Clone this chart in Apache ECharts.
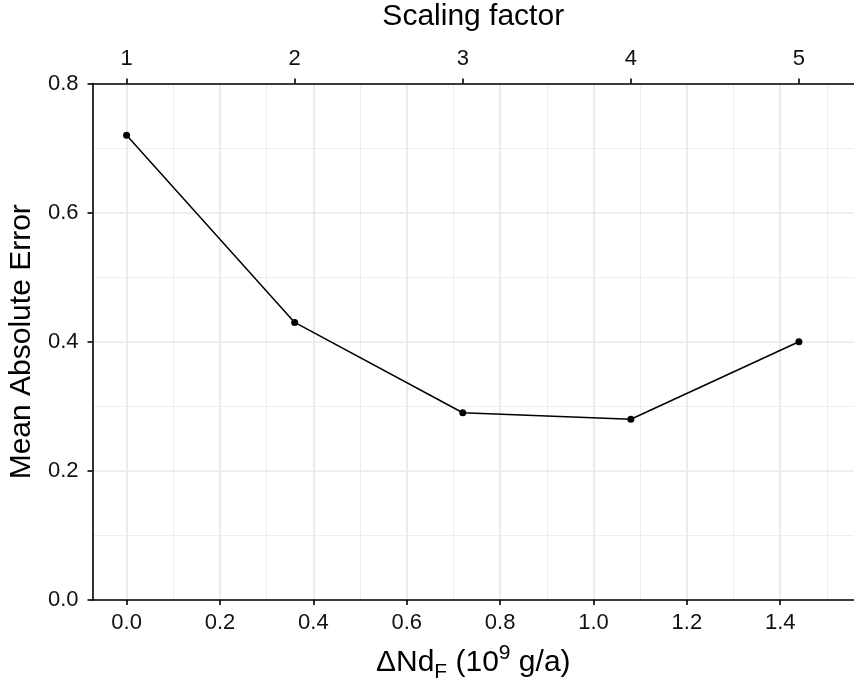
<!DOCTYPE html>
<html>
<head>
<meta charset="utf-8">
<script src="https://cdn.jsdelivr.net/npm/echarts@6/dist/echarts.min.js"></script>
<style>html,body{margin:0;padding:0;background:#fff}#c{width:854px;height:682px}</style>
</head>
<body>
<div id="c"></div>
<script>
var deltaNd = [0, 0.36, 0.72, 1.08, 1.44];
var mae = [0.72, 0.43, 0.29, 0.28, 0.40];
var scalingTicks = [1, 2, 3, 4, 5];
var xTicks = [0, 0.2, 0.4, 0.6, 0.8, 1.0, 1.2, 1.4];
var xMinorTicks = [0.1, 0.3, 0.5, 0.7, 0.9, 1.1, 1.3, 1.5];
var yTicks = [0, 0.2, 0.4, 0.6, 0.8];

var X_MIN = -0.073, X_MAX = 1.558;
var S_PER_X = 0.36;
var FONT = '"Liberation Sans", Arial, sans-serif';

var chart = echarts.init(document.getElementById('c'), null, {renderer: 'canvas'});
var gridLine = {color: '#e8e8e8', width: 1.7};
var minorLine = {color: '#ebebeb', width: 0.9};
var TICK_FS = 22, TITLE_FS = 30;
chart.setOption({
  animation: false,
  backgroundColor: '#ffffff',
  textStyle: {fontFamily: FONT},
  grid: {left: 92.5, right: 0, top: 83.5, bottom: 82, containLabel: false, outerBoundsMode: 'none'},
  xAxis: [
    {
      type: 'value', position: 'bottom', min: X_MIN, max: X_MAX,
      name: '{a|ΔNd}{sub|F}{a| (10}{sup|9}{a| g/a)}',
      nameLocation: 'middle', nameGap: 43,
      nameTextStyle: {
        rich: {
          a: {fontSize: TITLE_FS, fontFamily: FONT, color: '#000', verticalAlign: 'middle', lineHeight: 40},
          sub: {fontSize: 21, fontFamily: FONT, color: '#000', verticalAlign: 'bottom', lineHeight: 28},
          sup: {fontSize: 21, fontFamily: FONT, color: '#000', verticalAlign: 'top', lineHeight: 22}
        }
      },
      axisLine: {show: true, onZero: false, lineStyle: {color: '#000', width: 1.6}},
      axisTick: {show: true, length: 5, lineStyle: {color: '#000', width: 1.6}, customValues: xTicks},
      axisLabel: {customValues: xTicks, fontSize: TICK_FS, color: '#111', margin: 12, fontFamily: FONT,
        formatter: function (v) { return v.toFixed(1); }},
      splitLine: {show: true, lineStyle: gridLine},
      minorSplitLine: {show: false}
    },
    {
      type: 'value', position: 'top', min: 1 + X_MIN / S_PER_X, max: 1 + X_MAX / S_PER_X,
      name: 'Scaling factor', nameLocation: 'middle', nameGap: 52,
      nameTextStyle: {fontSize: TITLE_FS, color: '#000', fontFamily: FONT},
      axisLine: {show: true, onZero: false, lineStyle: {color: '#000', width: 1.6}},
      axisTick: {show: true, length: 5, lineStyle: {color: '#000', width: 1.6}, customValues: scalingTicks},
      axisLabel: {customValues: scalingTicks, fontSize: TICK_FS, color: '#111', margin: 14, fontFamily: FONT,
        formatter: function (v) { return String(v); }},
      splitLine: {show: false}
    },
    {
      type: 'value', position: 'bottom', min: X_MIN, max: X_MAX, show: true,
      axisLine: {show: false},
      axisTick: {show: false, customValues: xMinorTicks},
      axisLabel: {show: false, customValues: xMinorTicks},
      splitLine: {show: true, lineStyle: minorLine}
    }
  ],
  yAxis: {
    type: 'value', min: 0, max: 0.8, interval: 0.2,
    name: 'Mean Absolute Error', nameLocation: 'middle', nameGap: 52,
    nameTextStyle: {fontSize: TITLE_FS, color: '#000', fontFamily: FONT},
    axisLine: {show: true, onZero: false, lineStyle: {color: '#000', width: 1.6}},
    axisTick: {show: true, length: 5, lineStyle: {color: '#000', width: 1.6}},
    axisLabel: {fontSize: TICK_FS, color: '#111', margin: 14, fontFamily: FONT,
      formatter: function (v) { return v.toFixed(1); }},
    splitLine: {show: true, lineStyle: gridLine},
    minorTick: {show: false, splitNumber: 2},
    minorSplitLine: {show: true, lineStyle: minorLine}
  },
  series: [{
    type: 'line', xAxisIndex: 0,
    data: deltaNd.map(function (x, i) { return [x, mae[i]]; }),
    symbol: 'circle', symbolSize: 7,
    itemStyle: {color: '#000'},
    lineStyle: {color: '#000', width: 1.5},
    z: 5
  }]
});
</script>
</body>
</html>
